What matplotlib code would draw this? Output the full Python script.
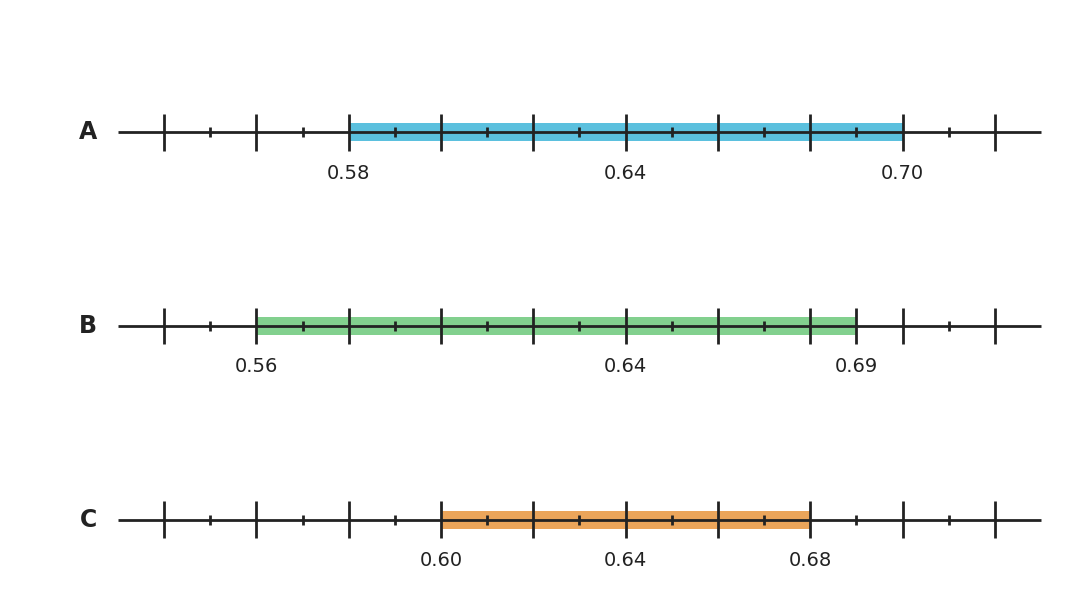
import matplotlib
import numpy as np
import matplotlib.pyplot as plt

matplotlib.use('Agg')

names = ['A', 'B', 'C']
lows = [0.58, 0.56, 0.60]
highs = [0.70, 0.69, 0.68]
mids = [0.64, 0.64, 0.64]
colors = ['#5bc0de', '#82d08e', '#eba55a']

axis_start, axis_end = 0.53, 0.73
majors = np.round(np.arange(0.54, 0.7201, 0.02), 2)
minors = np.round(np.arange(0.55, 0.7201, 0.02), 2)

ink = '#222222'

fig = plt.figure(figsize=(10.75, 6.15), dpi=100)
ax = fig.add_axes([0, 0, 1, 1])
ax.set_xlim(0.50443, 0.73737)
ax.set_ylim(2.492, -0.683)
ax.axis('off')

for row, (name, lo, hi, mid, col) in enumerate(zip(names, lows, highs, mids, colors)):
    ax.fill_between([lo, hi], row - 0.046, row + 0.046, color=col, lw=0, zorder=1)
    ax.plot([axis_start, axis_end], [row, row], color=ink, lw=2, zorder=2,
            solid_capstyle='butt')
    big = sorted(set(majors) | {lo, hi})
    small = [m for m in minors if m not in (lo, hi)]
    ax.vlines(big, row - 0.095, row + 0.095, color=ink, lw=2, zorder=3)
    ax.vlines(small, row - 0.026, row + 0.026, color=ink, lw=2, zorder=3)
    for v in (lo, mid, hi):
        ax.text(v, row + 0.211, f'{v:.2f}', ha='center', va='center',
                fontsize=14, color=ink)
    ax.text(0.5235, row, name, ha='center', va='center', fontsize=17,
            fontweight='bold', color=ink)

fig.savefig('out.png', dpi=100)
